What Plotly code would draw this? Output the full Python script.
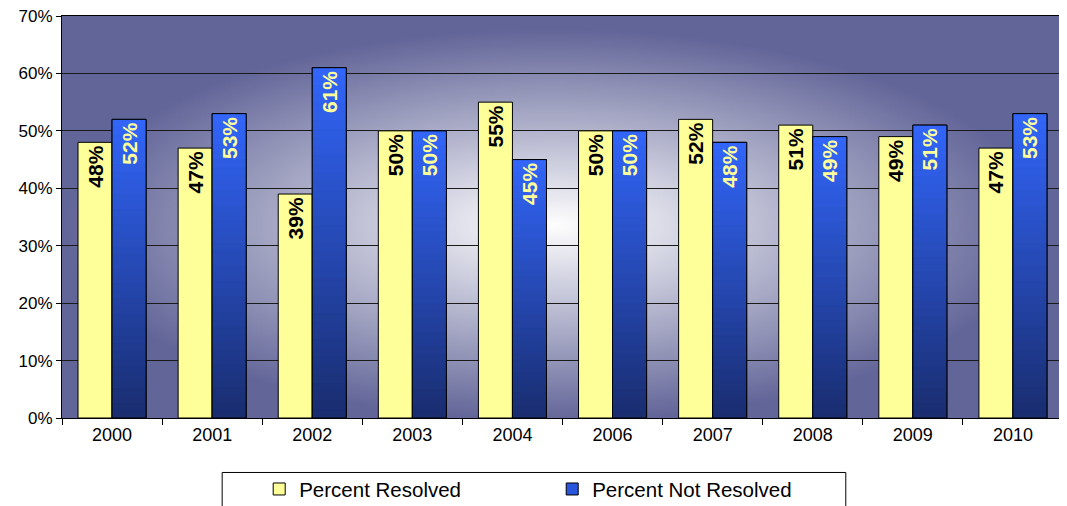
import base64
import struct
import zlib

import numpy as np
import plotly.graph_objects as go

# ---------------- data ----------------
years = ["2000", "2001", "2002", "2003", "2004", "2006", "2007", "2008", "2009", "2010"]
pct_resolved = [48, 47, 39, 50, 55, 50, 52, 51, 49, 47]
pct_not_resolved = [52, 53, 61, 50, 45, 50, 48, 49, 51, 53]
y_ticks = [0, 10, 20, 30, 40, 50, 60, 70]
series_names = ["Percent Resolved", "Percent Not Resolved"]

# ---------------- style ----------------
FONT = "Arial, Liberation Sans, sans-serif"
YELLOW = "#ffff99"
BLUE_TOP = np.array([50, 102, 250])
BLUE_BOT = np.array([25, 44, 110])
EDGE = np.array([98, 101, 152])
N_SEG = 40


def png_data_uri(arr):
    h, w, _ = arr.shape
    raw = b"".join(b"\x00" + arr[r].astype(np.uint8).tobytes() for r in range(h))

    def chunk(tag, data):
        c = struct.pack(">I", len(data)) + tag + data
        return c + struct.pack(">I", zlib.crc32(tag + data) & 0xFFFFFFFF)

    png = b"\x89PNG\r\n\x1a\n"
    png += chunk(b"IHDR", struct.pack(">IIBBBBB", w, h, 8, 2, 0, 0, 0))
    png += chunk(b"IDAT", zlib.compress(raw, 9))
    png += chunk(b"IEND", b"")
    return "data:image/png;base64," + base64.b64encode(png).decode()


# radial background gradient for the plot area
W, H = 400, 200
xx, yy = np.meshgrid((np.arange(W) + 0.5) / W, (np.arange(H) + 0.5) / H)
d = np.sqrt(((xx - 0.49) / 0.5) ** 2 + ((yy - 0.52) / 0.5) ** 2)
t = np.clip(d * 1.02, 0, 1)[..., None]
img = (1 - t) * 255 + t * EDGE
bg_uri = png_data_uri(img)

fig = go.Figure()

# yellow bars
fig.add_trace(go.Bar(
    x=years, y=pct_resolved, name=series_names[0], offsetgroup="r",
    marker=dict(color=YELLOW, line=dict(color="black", width=1)),
    text=[f"{v}%" for v in pct_resolved], texttemplate="%{text}",
    textposition="inside", insidetextanchor="end",
    textangle=-90, textfont=dict(family=FONT, size=21, color="black", weight="bold"),
    hoverinfo="skip",
))

# blue bars: base bar for legend
fig.add_trace(go.Bar(
    x=years, y=pct_not_resolved, name=series_names[1], offsetgroup="n",
    marker=dict(color="#2a55dd", line=dict(color="black", width=1)),
    hoverinfo="skip",
))

# blue gradient segments (overlapping slightly to avoid seams)
for k in range(N_SEG):
    f = (k + 0.5) / N_SEG
    c = (1 - f) * BLUE_BOT + f * BLUE_TOP
    col = "rgb(%d,%d,%d)" % tuple(c.round().astype(int))
    bases = [v * k / N_SEG for v in pct_not_resolved]
    tops = [min(v * (k + 1.8) / N_SEG, v) for v in pct_not_resolved]
    fig.add_trace(go.Bar(
        x=years, y=[tp - b for tp, b in zip(tops, bases)], base=bases,
        offsetgroup="n", showlegend=False, hoverinfo="skip",
        marker=dict(color=col, line=dict(width=0)),
    ))

# blue outline + labels
fig.add_trace(go.Bar(
    x=years, y=pct_not_resolved, offsetgroup="n", showlegend=False,
    marker=dict(color="rgba(0,0,0,0)", line=dict(color="black", width=1)),
    text=[f"{v}%" for v in pct_not_resolved], texttemplate="%{text}",
    textposition="inside", insidetextanchor="end",
    textangle=-90, textfont=dict(family=FONT, size=21, color=YELLOW, weight="bold"),
    hoverinfo="skip",
))

# page body has an 8px margin, so the figure is 8px smaller and margins are shifted
fig.update_layout(
    width=1059, height=498,
    margin=dict(l=54, r=4, t=8, b=88, autoexpand=False),
    paper_bgcolor="white",
    plot_bgcolor="rgba(0,0,0,0)",
    barmode="group", bargap=0.32, bargroupgap=0,
    font=dict(family=FONT, color="black"),
    images=[dict(source=bg_uri, xref="paper", yref="paper", x=0, y=1,
                 sizex=1, sizey=1, xanchor="left", yanchor="top",
                 sizing="stretch", layer="below")],
    xaxis=dict(type="category", showline=True, linecolor="black", linewidth=1,
               mirror=True, ticks="outside", ticklen=6, tickcolor="black",
               tickson="boundaries", showgrid=False, automargin=False,
               tickfont=dict(family=FONT, size=18, color="black")),
    yaxis=dict(range=[0, 70], tickvals=y_ticks, ticktext=[f"{v}%" for v in y_ticks],
               showline=True, linecolor="black", linewidth=1, mirror=True,
               ticks="outside", ticklen=5, tickcolor="black", automargin=False,
               ticklabeloverflow="allow",
               showgrid=True, gridcolor="#1a1a1a", gridwidth=1, zeroline=False,
               tickfont=dict(family=FONT, size=17, color="black")),
    showlegend=True,
    legend=dict(orientation="h", x=0.197, xanchor="left", y=-0.177, yanchor="middle",
                bgcolor="rgba(0,0,0,0)", borderwidth=0,
                entrywidth=248, entrywidthmode="pixels",
                font=dict(family=FONT, size=20.5, color="black"),
                itemclick=False, itemdoubleclick=False),
    shapes=[dict(type="rect", xref="paper", yref="paper",
                 x0=0.16, x1=0.783, y0=-0.24, y1=-0.1355,
                 line=dict(color="black", width=1), fillcolor="rgba(0,0,0,0)",
                 layer="above")],
)

fig.write_html("out.html")
